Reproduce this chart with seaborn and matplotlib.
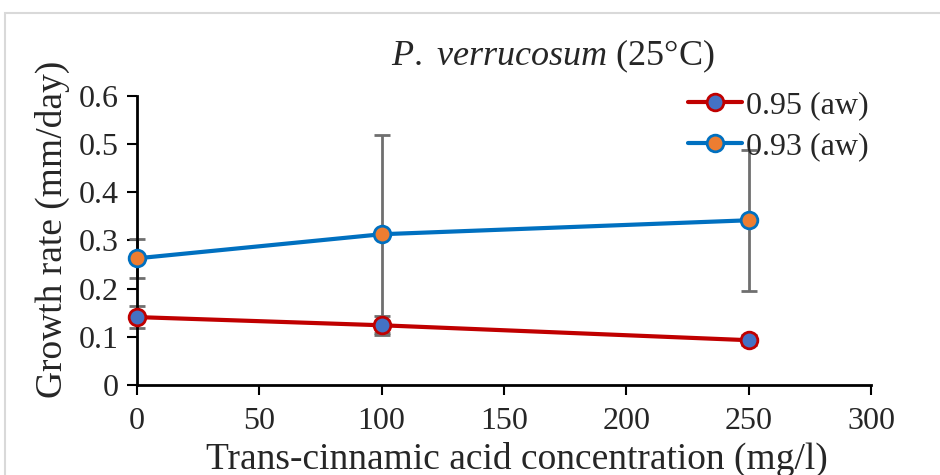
import matplotlib
matplotlib.use("Agg")
import matplotlib.pyplot as plt
import matplotlib.patches as mpatches
import numpy as np
import pandas as pd
import seaborn as sns

# Growth-rate data for P. verrucosum at 25 °C
concentration = [0, 100, 250]
aw_levels = ["0.95 (aw)", "0.93 (aw)"]
rate_095 = [0.141, 0.124, 0.093]
sd_095 = [0.023, 0.020, 0.010]
rate_093 = [0.263, 0.313, 0.342]
sd_093 = [0.040, 0.205, 0.146]

df = pd.DataFrame({
    "conc": concentration * 2,
    "rate": rate_095 + rate_093,
    "aw": [aw_levels[0]] * 3 + [aw_levels[1]] * 3,
})

sns.set_style("white")
plt.rcParams["font.family"] = ["Liberation Serif", "DejaVu Serif"]
plt.rcParams["mathtext.fontset"] = "custom"
plt.rcParams["mathtext.rm"] = "Liberation Serif"
plt.rcParams["mathtext.it"] = "Liberation Serif:italic"

fig = plt.figure(figsize=(9.4, 4.75), dpi=100)
ax = fig.add_axes([137 / 940, 1 - 385 / 475, (871 - 137) / 940, (385 - 96) / 475])

# outer chart frame
fig.patches.append(mpatches.Rectangle((5 / 940, -0.05), 1.1, 1 - 13 / 475 + 0.05,
                                      transform=fig.transFigure, fill=False,
                                      edgecolor="#d9d9d9", linewidth=1.5))

line_colors = ["#C00000", "#0070C0"]
face_colors = ["#4472C4", "#ED7D31"]

# error bars underneath the lines
for vals, sds in [(rate_095, sd_095), (rate_093, sd_093)]:
    eb = ax.errorbar(concentration, vals, yerr=sds, fmt="none", ecolor="#6f6f6f",
                     elinewidth=2, capsize=6, capthick=2, zorder=1)
    for art in eb.lines[1] + eb.lines[2]:
        art.set_clip_on(False)

sns.lineplot(data=df, x="conc", y="rate", hue="aw", palette=line_colors,
             linewidth=3, ax=ax, legend=False, zorder=2)

handles = []
for lbl, vals, lc, fc in zip(aw_levels, [rate_095, rate_093], line_colors, face_colors):
    ax.plot(concentration, vals, linestyle="none", marker="o", markersize=12,
            markerfacecolor=fc, markeredgecolor=lc, markeredgewidth=2, zorder=3,
            clip_on=False)
    handles.append(plt.Line2D([], [], color=lc, linewidth=3, marker="o",
                              markersize=12, markerfacecolor=fc,
                              markeredgecolor=lc, markeredgewidth=2, label=lbl))

ax.set_xlim(0, 300)
ax.set_ylim(0, 0.6)
ax.set_xticks(range(0, 301, 50))
ax.set_yticks([0, 0.1, 0.2, 0.3, 0.4, 0.5, 0.6])
ax.set_yticklabels(["0", "0.1", "0.2", "0.3", "0.4", "0.5", "0.6"])
ax.tick_params(axis="both", direction="out", length=7, width=1.5, color="black",
               labelsize=23, left=True, bottom=True)
ax.tick_params(axis="x", pad=9)
ax.tick_params(axis="y", pad=6)
for s in ["top", "right"]:
    ax.spines[s].set_visible(False)
for s in ["left", "bottom"]:
    ax.spines[s].set_color("black")
    ax.spines[s].set_linewidth(2)
ax.set_xlabel("")
ax.set_ylabel("")
ax.set_facecolor("white")

fig.text(52 / 940, 1 - 229 / 475, "Growth rate (mm/day)", rotation=90,
         ha="center", va="center", fontsize=27)
fig.text(517 / 940, 1 - 459 / 475, "Trans-cinnamic acid concentration (mg/l)",
         ha="center", va="center", fontsize=27)
fig.text(553 / 940, 1 - 56 / 475, r"$\it{P.\ verrucosum}$ (25°C)",
         ha="center", va="center", fontsize=26)

leg = ax.legend(handles=handles, loc="upper right", bbox_to_anchor=(881 / 940, 1 - 78 / 475),
                bbox_transform=fig.transFigure, frameon=False, fontsize=23,
                handlelength=1.7, handletextpad=0.1, labelspacing=0.38,
                borderaxespad=0)

fig.savefig("out.png", dpi=100, facecolor="white")
